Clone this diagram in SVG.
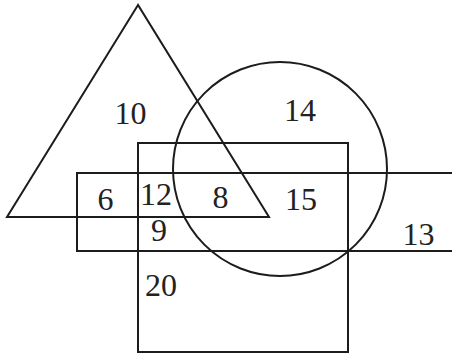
<svg xmlns="http://www.w3.org/2000/svg" width="452" height="356" viewBox="0 0 452 356">
<style>
.s{fill:none;stroke:#1c1c1c;stroke-width:2}
.t{font-family:"Liberation Serif",serif;font-size:32px;fill:#222;text-anchor:middle}
</style>
<rect width="452" height="356" fill="#fff"/>
<g id="connectors"/>
<g id="triangle"><polygon class="s" points="138,5 7,217 269,217"/></g>
<g id="circle"><circle class="s" cx="280" cy="169" r="107"/></g>
<g id="square"><rect class="s" x="138" y="143" width="210" height="209"/></g>
<g id="rectangle"><polyline class="s" points="453,173 77,173 77,251 453,251"/></g>
<g id="labels">
<text class="t" x="130.5" y="124">10</text>
<text class="t" x="300" y="121">14</text>
<text class="t" x="105.5" y="210">6</text>
<text class="t" x="156" y="204.5">12</text>
<text class="t" x="220.5" y="208">8</text>
<text class="t" x="301" y="210">15</text>
<text class="t" x="159" y="240.5">9</text>
<text class="t" x="161" y="296">20</text>
<text class="t" x="418.5" y="245">13</text>
</g>
</svg>
